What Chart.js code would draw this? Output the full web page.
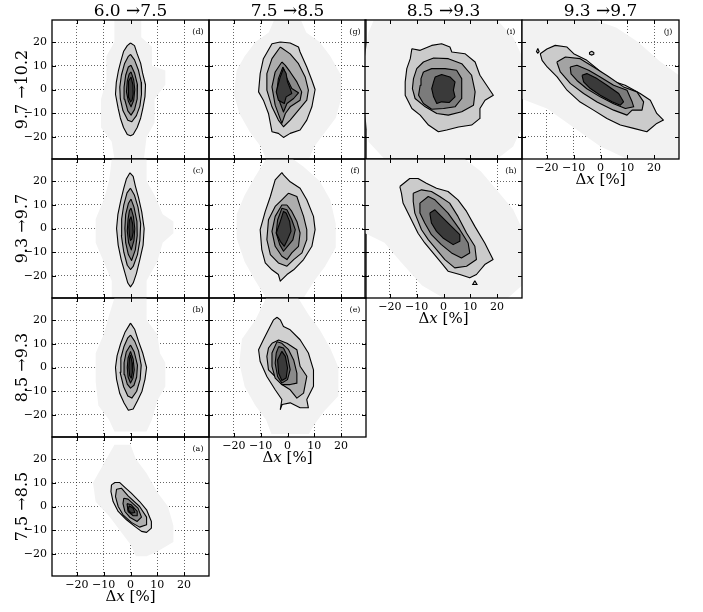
<!DOCTYPE html>
<html>
<head>
<meta charset="utf-8">
<script src="https://cdn.jsdelivr.net/npm/chart.js@4.4.0/dist/chart.umd.min.js"></script>
<style>
  html, body { margin: 0; padding: 0; background: #fff; }
  #wrap { position: relative; width: 703px; height: 612px; overflow: hidden; }
  #wrap canvas { position: absolute; }
</style>
</head>
<body>
<div id="wrap"></div>
<script>
// headings, ticks
const COL_TITLES = ['6.0 →7.5', '7.5 →8.5', '8.5 →9.3', '9.3 →9.7'];
const ROW_TITLES = ['9.7 →10.2', '9.3 →9.7', '8.5 →9.3', '7.5 →8.5'];
const TICKS = [-20, -10, 0, 10, 20];
const TICK_LABELS = ['−20', '−10', '0', '10', '20'];
const LIM = 29.3;

// contour outlines, outermost first, in percent (dx, dy)
// (d)
const d0 = [[-6,29.3],[4,29.3],[4,22],[8,18],[8,10],[13,8],[13,2],[9,-4],[9,-14],[6,-20],[5,-29.3],[-6,-29.3],[-7,-22],[-11,-16],[-11,-4],[-9,4],[-9,14],[-6,20]];
const d1 = [[0,19.6],[1.5,18.5],[2.5,15],[3.8,11],[4.5,7],[5.6,2],[5.4,-3],[4.6,-8],[3.8,-12],[2.5,-16],[1,-19],[0,-19.5],[-1.2,-19],[-2.6,-16],[-3.8,-12],[-4.6,-8],[-5.6,-2],[-5.3,3],[-4.5,8],[-3.6,12],[-2.6,16],[-1.2,18.5]];
const d2 = [[0,14.8],[1.5,12.5],[3,8],[4,3],[4.1,-2],[3.5,-7],[2.2,-11],[0.5,-13.6],[-1,-13],[-2.8,-9],[-3.8,-4],[-4,1],[-3.4,6],[-2.2,11],[-0.8,14]];
const d3 = [[0.2,10.2],[1.5,7],[2.6,2],[2.5,-4],[1.5,-8.5],[0.2,-10.8],[-1,-9],[-2.2,-4],[-2.4,1],[-1.8,6],[-0.8,9.5]];
const d4 = [[0.2,7.4],[1.2,4],[1.6,0],[1.2,-4.5],[0.2,-7.3],[-0.8,-5],[-1.5,-1],[-1.2,3.5],[-0.5,6.5]];
const d5 = [[0.2,5.3],[0.9,2],[1,-2],[0.6,-4.5],[0,-5.2],[-0.6,-3.5],[-0.9,0],[-0.6,3.5]];
// (c)
const c0 = [[-7,29.3],[6,29.3],[6,20],[9,14],[12,6],[16,3],[16,-2],[12,-6],[10,-14],[6,-22],[6,-29.3],[-7,-29.3],[-7,-22],[-10,-14],[-13,-6],[-13,4],[-10,12],[-8,20]];
const c1 = [[-0.2,23.5],[1,22],[1.8,18],[3,13],[4.2,7],[5.1,0],[4.7,-7],[3.5,-13],[2.2,-19],[1,-23],[0,-24.6],[-1,-23],[-2,-19],[-3.5,-13],[-4.6,-7],[-5.2,0],[-4.7,6],[-3.6,12],[-2.5,17],[-1.5,21]];
const c2 = [[0,17],[1.5,14],[2.8,9],[3.8,2],[3.5,-5],[2.6,-11],[1,-16],[0,-17.3],[-1.2,-15.5],[-2.5,-10],[-3.4,-3],[-3.3,4],[-2.5,10],[-1.3,15]];
const c3 = [[0.2,12.4],[1.3,9],[2.4,3],[2.5,-3],[1.8,-9],[0.4,-13.5],[-0.8,-11],[-1.8,-6],[-2.1,0],[-1.8,6],[-0.8,10.5]];
const c4 = [[0.2,8.6],[1.1,5],[1.6,0],[1.3,-5],[0.3,-9],[-0.7,-6],[-1.2,-1],[-0.9,4],[-0.4,7.5]];
const c5 = [[0.2,5],[0.8,2],[1,-1.5],[0.5,-4.5],[0,-5],[-0.4,-3],[-0.6,0.5],[-0.4,3.5]];
// (b)
const b0 = [[-6,29.3],[6,29.3],[6,20],[10,14],[11,6],[13,2],[13,-8],[10,-14],[8,-22],[6,-27],[-6,-27],[-8,-22],[-12,-16],[-13,-6],[-13,6],[-10,14],[-8,22]];
const b1 = [[0,18.7],[1.6,16],[3,11],[4.6,6],[6,0],[5.4,-5],[4.3,-10],[2.6,-14],[1,-17.5],[-0.8,-18],[-2.4,-15],[-4,-11],[-5.2,-5],[-5.6,0],[-5,5],[-3.7,10],[-2,15]];
const b2 = [[0,13.7],[1.6,11],[3,7],[4,1],[3.6,-5],[2.3,-10],[0.5,-12.9],[-1,-12],[-2.6,-8],[-3.9,-2],[-3.6,4],[-2.4,9],[-1,12.5]];
const b3 = [[0,9.5],[1.4,6.5],[2.6,1],[2.3,-4],[1.3,-7.5],[0,-8.7],[-1.2,-7],[-2.2,-3],[-2.4,2],[-1.6,6.5]];
const b4 = [[0,6.8],[1,3.5],[1.4,-1],[0.9,-4.5],[0,-6.5],[-0.9,-4],[-1.2,0],[-0.9,4]];
const b5 = [[0,5.3],[0.6,2],[0.7,-2],[0.3,-4.5],[-0.3,-3.5],[-0.6,0],[-0.4,3.5]];
// (a)
const a0 = [[-6,26],[0,26],[2,20],[6,14],[10,6],[14,0],[16,-8],[16,-15],[10,-19],[6,-21],[2,-21],[0,-16],[-4,-10],[-8,-4],[-13,2],[-14,10],[-11,16],[-8,22]];
const a1 = [[-7.1,9.1],[-5.8,10.1],[-4,10.1],[-2.1,8.1],[0.3,5.6],[3.4,2.1],[6,-1.4],[7.8,-6.3],[7.8,-9.1],[6,-10.9],[4.1,-10.5],[1.6,-8.4],[-1.5,-5.6],[-4.6,-2.1],[-6.5,2.1],[-7.3,6.3]];
const a2 = [[-5.2,7.3],[-3.4,7.7],[-0.9,4.5],[3.4,0],[6,-4.5],[6,-7.7],[3.4,-8.7],[0.3,-6.7],[-2.8,-3.5],[-4.6,0],[-5.6,4.2]];
const a3 = [[-2.5,3.5],[-0.9,3.1],[2.8,-0.7],[4.1,-4.5],[2.5,-6.3],[-0.3,-4.5],[-2.1,-2.1],[-2.8,1.2]];
const a4 = [[-1.3,1.2],[0.3,0.7],[2.5,-2.1],[2.5,-3.9],[1,-3.9],[-0.9,-2.1]];
const a5 = [[-0.5,0.3],[1,-0.7],[1.6,-2.5],[0.3,-2.8],[-0.9,-1.4]];
// (g)
const g0 = [[-5,29.3],[5,29.3],[7,24],[12,20],[16,14],[20,6],[20,-4],[18,-12],[14,-18],[10,-24],[8,-29.3],[-8,-29.3],[-10,-24],[-14,-18],[-18,-10],[-20,-2],[-19,8],[-16,14],[-12,20],[-7,24]];
const g1 = [[-2.7,20],[1,19.6],[4.1,17.9],[4.7,15.8],[7.2,9.5],[9.1,3.9],[10.3,0],[9.1,-7.3],[7.2,-12.9],[4.7,-17.1],[1,-18.5],[-1.5,-20.2],[-3.4,-18.5],[-5.8,-17.8],[-7.1,-10.1],[-9,-4.5],[-10.8,-1],[-10.2,6.7],[-9,13],[-5.8,19.3]];
const g2 = [[-2.7,17.9],[1,15],[4.1,10.9],[6.6,5.3],[7.8,-0.3],[7.2,-4.5],[4.1,-8.7],[1,-12.9],[-1.5,-15.7],[-3.4,-12.9],[-5.8,-7.3],[-7.7,-0.3],[-7.7,6.7],[-5.8,13]];
const g3 = [[-2.1,11.6],[-0.8,10.2],[1,7.4],[3.5,3.2],[5.3,-1],[4.7,-4.5],[1,-7.3],[-0.8,-10.1],[-2.1,-14.3],[-4.6,-6.6],[-5.8,1.1],[-4.6,7.4]];
const g4 = [[-1.7,9.5],[-0.2,4.6],[1.6,0.4],[4.1,-1.4],[2.3,-3.8],[-0.2,-5.9],[-1.5,-9.5],[-2.7,-5.9],[-4,-1],[-3.4,4.6]];
const g5 = [[-1.5,8.8],[-0.5,6.7],[0,3.2],[1,0.4],[1.6,-1.7],[-0.5,-3.1],[-1.2,-5.9],[-3.4,-4.5],[-4.2,-1],[-2.7,5.3]];
// (f)
const f0 = [[-8,29.3],[2,29.3],[6,26],[12,20],[16,12],[18,2],[18,-8],[14,-16],[10,-22],[6,-29.3],[-8,-29.3],[-12,-22],[-16,-14],[-19,-4],[-19,6],[-16,14],[-12,22]];
const f1 = [[-2.1,23.6],[-1.5,22.6],[1,19.7],[4.7,17],[7.2,12.1],[9.7,5.1],[10.3,-0.5],[9.1,-7.5],[6,-13.1],[2.3,-17.4],[-0.2,-19.4],[-2.7,-22.2],[-3.4,-19.4],[-5.8,-17.4],[-8.3,-14.5],[-9.6,-8.9],[-10.2,-0.5],[-8.3,7.2],[-6.4,13.5],[-4.6,20.5]];
const f2 = [[0.4,14.9],[3.5,13.5],[4.7,9.3],[6,5.1],[7.2,-0.5],[7.2,-4.7],[5.4,-10.3],[2.3,-13.1],[-0.2,-15.9],[-3.4,-14.5],[-6.4,-11],[-7.7,-4.7],[-7.1,3.7],[-4.6,9.3],[-2.1,12.1]];
const f3 = [[-0.2,9.9],[1.6,7.2],[3.5,3],[4.7,-1.9],[4.1,-7.5],[1.6,-10.3],[-0.2,-13.1],[-2.1,-11.7],[-4.6,-7.5],[-5.8,-1.2],[-4.6,5.1],[-2.1,9.9]];
const f4 = [[-0.2,7.9],[1.6,3.7],[2.9,-0.5],[2,-4.8],[0,-7.5],[-1.5,-9.6],[-2.9,-6.8],[-4.2,-1.9],[-3.7,3.6],[-2.1,8.5]];
const f5 = [[-0.5,6.5],[0.8,3],[1.3,-1.2],[0,-4.7],[-1.2,-7.5],[-2.7,-5.4],[-4.2,-1.9],[-2.9,2.3],[-1.5,7.2]];
// (e)
const e0 = [[-8,29.3],[4,29.3],[8,22],[12,16],[16,8],[19,0],[19,-12],[14,-18],[10,-24],[8,-28],[-6,-28],[-8,-22],[-12,-16],[-16,-8],[-18,2],[-17,12],[-12,20]];
const e1 = [[-3.9,21.2],[-2.7,20.1],[-1.5,17.3],[1,15.9],[4.7,11.7],[7.8,6.1],[9.7,-1],[9.7,-7.9],[7.2,-13.5],[7.8,-17],[4.7,-17],[1,-14.9],[-2,-15.6],[-2.7,-17.7],[-2.1,-13.5],[-4.6,-9.4],[-7.7,-3.8],[-10.2,2.5],[-10.8,7.5],[-9,11.7],[-6.5,17.3],[-5.2,20.1]];
const e2 = [[-5.8,10.2],[-3.3,11.6],[-0.2,10.2],[3.5,7.5],[4.7,0.5],[7.2,-3.7],[6,-10.8],[3.5,-12.9],[1,-9.4],[-2.1,-7.2],[-4.6,-3.8],[-7.1,-1],[-7.7,4.7],[-7.1,8.2]];
const e3 = [[-3.9,10.9],[-2.1,10.2],[0.4,7.5],[2.3,3.2],[3.5,-2.4],[3.5,-6.6],[1,-7.2],[-2.1,-7.2],[-4.6,-4.5],[-5.8,0.5],[-5.8,6.1]];
const e4 = [[-3.3,8.8],[-1.5,8.2],[0,4.7],[1,-0.9],[0,-5.1],[-2.1,-6.6],[-3.7,-3.8],[-4.6,1.8],[-4.2,6.1]];
const e5 = [[-2.1,6.8],[-0.8,4.7],[0,-0.2],[-0.5,-4.4],[-2.1,-5.5],[-3.3,-2.4],[-3.7,3.2]];
// (i)
const i0 = [[-26,29.3],[20,29.3],[26,22],[29.3,14],[29.3,-16],[26,-24],[20,-29.3],[-22,-29.3],[-28,-22],[-29.3,-10],[-29.3,14],[-28,24]];
const i1 = [[-11.8,17.2],[-8.7,16.5],[-4.4,18.6],[-0.7,19.3],[2.4,17.9],[3.1,15.8],[8,15.1],[11.8,11.6],[13.6,6],[18.6,-2.4],[15.5,-4.5],[13.6,-8],[13.6,-12.2],[10.5,-15],[5.6,-15.8],[1.2,-17.1],[-1.9,-17.8],[-5.6,-15],[-8.7,-10.8],[-11.8,-8],[-14.3,-2.4],[-14.3,3.2],[-13.7,8.8],[-12.4,13]];
const i2 = [[-10,8.8],[-7.5,11.6],[-3.7,13.3],[1.8,13],[6.8,10.9],[10.5,6],[11.8,-1],[11.2,-6.6],[6.8,-9.4],[1.8,-10.8],[-2.5,-10.1],[-6.8,-7.3],[-10.6,-3.8],[-11.6,0.4],[-11.2,4.6]];
const i3 = [[-7.5,7.4],[-4.4,8.8],[0.6,8.8],[4.9,8.1],[6.8,4.6],[6.8,-3.8],[4.3,-7.3],[0,-8],[-4.4,-8.3],[-7.5,-5.9],[-9.3,-2.4],[-8.7,1.8],[-8.4,4.6]];
const i4 = [[-3.1,5.3],[-0.7,6.3],[2.4,5.3],[4.3,3.2],[3.7,-0.3],[4.3,-3.1],[2.1,-5.5],[-0.7,-5.2],[-2.5,-5.9],[-3.7,-3.1],[-4.4,0.4],[-3.7,3.2]];
// (h)
const h0 = [[-29.3,29.3],[8,29.3],[14,24],[20,16],[26,8],[29.3,0],[29.3,-24],[24,-29.3],[0,-29.3],[-8,-24],[-16,-14],[-22,-6],[-29.3,-2]];
const h1 = [[-16.3,17.7],[-12.6,21.1],[-9.5,21.1],[-6.4,19.1],[-2.6,17],[1.7,15.6],[5.4,12.1],[8.6,7.2],[11.7,0.9],[15.4,-6.1],[18.5,-13.1],[15.4,-15.2],[12.3,-19.4],[9.8,-20.8],[6.1,-19.4],[1.7,-18],[-0.8,-14.5],[-3.9,-10.3],[-7,-6.1],[-9.5,-2],[-12.6,5.1],[-15.1,10.7],[-15.7,14.9]];
const h2 = [[-11.3,14.9],[-8.2,16.3],[-4.5,15.6],[-1.4,13.5],[2.3,10.7],[5.4,5.1],[8.6,-1.9],[11.7,-7.5],[12.3,-13.1],[8.6,-15.9],[4.2,-16.6],[0.5,-13.1],[-2.6,-8.9],[-5.7,-4.7],[-8.2,-0.5],[-10.7,6.5],[-11.3,11.4]];
const h3 = [[-8.8,10.7],[-5.7,13.5],[-3.2,12.1],[-0.8,9.3],[1.7,6.5],[6.1,-0.5],[9.2,-6.1],[9.8,-10.3],[6.7,-12.4],[3,-10.3],[-0.8,-6.8],[-4.5,-2.6],[-7,2.3],[-8.8,6.5]];
const h4 = [[-5.1,6.5],[-3.2,7.9],[-0.8,5.1],[2.3,1.6],[6.1,-2.6],[6.1,-5.4],[3.6,-6.8],[-0.2,-4],[-2.6,-1.2],[-4.5,2.3]];
const hIsle = [[11.7,-22],[12.5,-23.6],[10.9,-23.6]];
// (j)
const j0 = [[-29.3,29.3],[-2,29.3],[6,26],[14,20],[22,12],[29.3,6],[29.3,-29.3],[10,-29.3],[0,-24],[-10,-16],[-20,-8],[-29.3,-4]];
const j1 = [[-22.5,15.1],[-20,17.1],[-16.9,18.6],[-12.5,17.9],[-10,15.1],[-5.1,12.3],[-1.3,8.8],[3.6,3.9],[9.2,1.8],[14.8,-1.7],[18.6,-4.5],[21,-10.1],[23.5,-12.9],[21,-14.3],[17.3,-17.8],[12.4,-16.4],[7.4,-15],[2.4,-12.2],[-2.6,-8.7],[-7.6,-5.3],[-12.5,-0.3],[-16.2,5.3],[-19.9,9.5],[-21.8,12.3]];
const j2 = [[-16.3,11.6],[-13.1,13.7],[-7.6,13],[-2.6,9.5],[2.4,5.9],[8.6,1.1],[13.6,-1],[16.1,-5.2],[15.5,-8.7],[11.8,-8.7],[9.9,-10.8],[4.9,-8.7],[-1.3,-5.3],[-6.3,-1.7],[-11.2,2.5],[-15,7.4]];
const j3 = [[-11.3,9.5],[-8.8,10.2],[-4.4,8.1],[-0.1,5.3],[4.9,1.8],[9.9,-0.3],[11.8,-5.2],[12.4,-7.3],[9.3,-8],[4.9,-6],[-0.1,-3.1],[-5.1,0.3],[-8.8,3.8],[-11,6.6]];
const j4 = [[-6.9,6],[-5.1,6.7],[-1.3,4.6],[2.4,1.8],[6.8,-1.7],[8.6,-5.2],[7.4,-6.6],[4.3,-5.2],[-0.1,-2.4],[-3.8,0.4],[-6.3,3.2]];
const jIsle1 = [[-3.3,16.1],[-2.5,15.6],[-2.5,14.9],[-3.3,14.5],[-4.1,14.9],[-4.1,15.6]];
const jIsle2 = [[-23.4,17.3],[-22.9,16],[-23.4,15.3],[-23.9,16]];

const SHADES_5 = ['#d0d0d0', '#adadad', '#8a8a8a', '#626262', '#3a3a3a'];
const SHADES_4 = ['#cbcbcb', '#a3a3a3', '#7b7b7b', '#3a3a3a'];
const BG_FILL = '#f2f2f2';

const PANELS = [
  {tag: '(d)', col: 0, row: 0, bg: d0, levels: [d1, d2, d3, d4, d5], isles: []},
  {tag: '(c)', col: 0, row: 1, bg: c0, levels: [c1, c2, c3, c4, c5], isles: []},
  {tag: '(b)', col: 0, row: 2, bg: b0, levels: [b1, b2, b3, b4, b5], isles: []},
  {tag: '(a)', col: 0, row: 3, bg: a0, levels: [a1, a2, a3, a4, a5], isles: []},
  {tag: '(g)', col: 1, row: 0, bg: g0, levels: [g1, g2, g3, g4, g5], isles: []},
  {tag: '(f)', col: 1, row: 1, bg: f0, levels: [f1, f2, f3, f4, f5], isles: []},
  {tag: '(e)', col: 1, row: 2, bg: e0, levels: [e1, e2, e3, e4, e5], isles: []},
  {tag: '(i)', col: 2, row: 0, bg: i0, levels: [i1, i2, i3, i4], isles: []},
  {tag: '(h)', col: 2, row: 1, bg: h0, levels: [h1, h2, h3, h4], isles: [hIsle]},
  {tag: '(j)', col: 3, row: 0, bg: j0, levels: [j1, j2, j3, j4], isles: [jIsle1, jIsle2]}
];

// layout
const COL_LEFT = [52, 209, 365, 522];
const ROW_TOP = [20, 159, 298, 437];
const PW = 157, PH = 139;
const PAD = {l: 52, r: 3, t: 20, b: 45};
const SERIF = '"DejaVu Serif", serif';

const panelDeco = {
  id: 'panelDeco',
  afterDraw(chart, args, opts) {
    const {ctx, chartArea: a, scales: {x, y}} = chart;
    ctx.save();
    // inward tick marks on all four sides
    ctx.strokeStyle = '#000';
    ctx.lineWidth = 1;
    ctx.beginPath();
    TICKS.forEach(v => {
      const px = Math.round(x.getPixelForValue(v)) + 0.5;
      const py = Math.round(y.getPixelForValue(v)) + 0.5;
      ctx.moveTo(px, a.top); ctx.lineTo(px, a.top + 4);
      ctx.moveTo(px, a.bottom); ctx.lineTo(px, a.bottom - 4);
      ctx.moveTo(a.left, py); ctx.lineTo(a.left + 4, py);
      ctx.moveTo(a.right, py); ctx.lineTo(a.right - 4, py);
    });
    ctx.stroke();
    ctx.lineWidth = 1.3;
    ctx.strokeRect(a.left, a.top, a.right - a.left, a.bottom - a.top);

    ctx.fillStyle = '#000';
    ctx.textAlign = 'center';
    ctx.textBaseline = 'middle';
    ctx.font = '8px ' + SERIF;
    ctx.fillText(opts.tag, a.right - 11, a.top + 12);

    ctx.textBaseline = 'alphabetic';
    if (opts.colTitle) {
      ctx.font = '17px ' + SERIF;
      ctx.fillText(opts.colTitle, (a.left + a.right) / 2, a.top - 4);
    }
    if (opts.rowTitle) {
      ctx.save();
      ctx.translate(a.left - 25, (a.top + a.bottom) / 2);
      ctx.rotate(-Math.PI / 2);
      ctx.font = '16px ' + SERIF;
      ctx.fillText(opts.rowTitle, 0, 0);
      ctx.restore();
    }
    if (opts.xTitle) {
      const parts = [['Δ', '15px '], ['x', 'italic 15px '], [' [%]', '15px ']];
      let total = 0;
      parts.forEach(p => { ctx.font = p[1] + SERIF; total += ctx.measureText(p[0]).width; });
      let cx = (a.left + a.right) / 2 - total / 2;
      ctx.textAlign = 'left';
      parts.forEach(p => {
        ctx.font = p[1] + SERIF;
        ctx.fillText(p[0], cx, a.bottom + 25);
        cx += ctx.measureText(p[0]).width;
      });
    }
    ctx.restore();
  }
};

function closed(pts) {
  return pts.concat([pts[0]]).map(([x, y]) => ({x, y}));
}

const wrap = document.getElementById('wrap');

PANELS.forEach(p => {
  const bottom = !PANELS.some(q => q.col === p.col && q.row === p.row + 1);
  const left = p.col === 0;

  const canvas = document.createElement('canvas');
  canvas.width = PAD.l + PW + PAD.r;
  canvas.height = PAD.t + PH + PAD.b;
  canvas.style.left = (COL_LEFT[p.col] - PAD.l) + 'px';
  canvas.style.top = (ROW_TOP[p.row] - PAD.t) + 'px';
  wrap.appendChild(canvas);

  const shades = p.levels.length === 5 ? SHADES_5 : SHADES_4;
  const datasets = [{
    data: closed(p.bg),
    fill: 'shape',
    backgroundColor: BG_FILL,
    borderColor: 'rgba(0,0,0,0)',
    borderWidth: 1,
    pointRadius: 0,
    order: 99
  }];
  p.levels.forEach((lv, k) => {
    datasets.push({
      data: closed(lv),
      fill: 'shape',
      backgroundColor: shades[k],
      borderColor: '#000',
      borderWidth: 1.1,
      borderJoinStyle: 'round',
      pointRadius: 0,
      tension: 0,
      order: 50 - k
    });
  });
  p.isles.forEach(is => {
    datasets.push({
      data: closed(is),
      fill: 'shape',
      backgroundColor: shades[0],
      borderColor: '#000',
      borderWidth: 1.1,
      pointRadius: 0,
      order: 10
    });
  });

  const tickFont = {family: SERIF, size: 11};
  new Chart(canvas, {
    type: 'line',
    data: {datasets},
    options: {
      responsive: false,
      animation: false,
      events: [],
      layout: {padding: {top: PAD.t, right: PAD.r, left: 0, bottom: 0}},
      plugins: {
        legend: {display: false},
        tooltip: {enabled: false},
        panelDeco: {
          tag: p.tag,
          colTitle: p.row === 0 ? COL_TITLES[p.col] : '',
          rowTitle: left ? ROW_TITLES[p.row] : '',
          xTitle: bottom
        }
      },
      scales: {
        x: {
          type: 'linear',
          min: -LIM,
          max: LIM,
          z: 1,
          afterBuildTicks: s => { s.ticks = TICKS.map(v => ({value: v})); },
          afterFit: s => { s.height = PAD.b; },
          grid: {color: 'rgba(0,0,0,0.6)', lineWidth: 1, drawTicks: false},
          border: {display: false, dash: [1, 2]},
          ticks: {
            display: bottom,
            padding: 3,
            color: '#000',
            font: tickFont,
            maxRotation: 0,
            autoSkip: false,
            callback: v => TICK_LABELS[TICKS.indexOf(v)]
          }
        },
        y: {
          type: 'linear',
          min: -LIM,
          max: LIM,
          z: 1,
          afterBuildTicks: s => { s.ticks = TICKS.map(v => ({value: v})); },
          afterFit: s => { s.width = PAD.l; },
          grid: {color: 'rgba(0,0,0,0.6)', lineWidth: 1, drawTicks: false},
          border: {display: false, dash: [1, 2]},
          ticks: {
            display: left,
            padding: 5,
            color: '#000',
            font: tickFont,
            autoSkip: false,
            callback: v => TICK_LABELS[TICKS.indexOf(v)]
          }
        }
      }
    },
    plugins: [panelDeco]
  });
});
</script>
</body>
</html>
